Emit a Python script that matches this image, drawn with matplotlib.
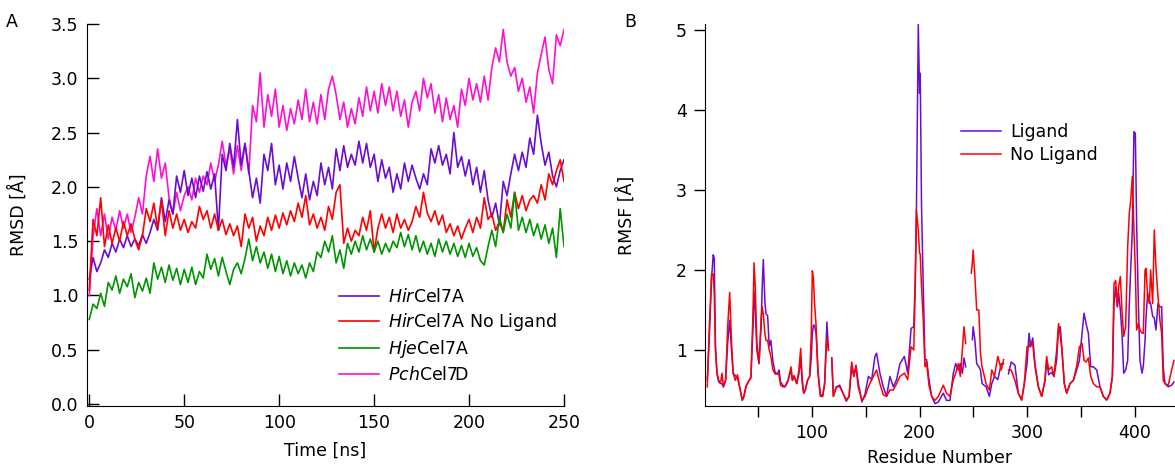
import numpy as np
import matplotlib
matplotlib.use("Agg")
from matplotlib import pyplot as plt

plt.rcParams['font.family'] = ['DejaVu Sans']
plt.rcParams['mathtext.fontset'] = 'custom'
plt.rcParams['mathtext.it'] = 'DejaVu Sans:italic'
plt.rcParams['mathtext.rm'] = 'DejaVu Sans'

# ---- panel A: RMSD vs time, read every 2 ns ----
time_ns = np.arange(0, 251, 2)

rmsd_hir = [
    1.15, 1.35, 1.22, 1.30, 1.42, 1.35, 1.48, 1.40, 1.52, 1.44,
    1.55, 1.45, 1.52, 1.46, 1.56, 1.48, 1.58, 1.70, 1.60, 1.90,
    1.68, 1.88, 1.75, 2.10, 1.95, 2.15, 1.92, 2.08, 1.90, 2.10,
    1.96, 2.14, 1.98, 2.12, 1.60, 2.30, 2.15, 2.40, 2.18, 2.62,
    2.20, 2.40, 2.15, 1.90, 2.08, 1.85, 2.30, 2.15, 2.40, 2.02,
    2.20, 1.98, 2.22, 2.05, 2.28, 2.08, 1.90, 2.12, 1.88, 2.05,
    1.92, 2.22, 2.02, 2.18, 1.98, 2.35, 2.15, 2.38, 2.18, 2.30,
    2.20, 2.42, 2.22, 2.40, 2.18, 2.30, 2.05, 2.25, 2.08, 2.18,
    1.95, 2.12, 1.98, 2.22, 2.05, 2.20, 2.08, 1.98, 2.12, 2.02,
    2.35, 2.22, 2.38, 2.20, 2.30, 2.12, 2.50, 2.18, 2.28, 2.10,
    2.25, 2.02, 2.18, 1.95, 2.15, 1.88, 1.72, 1.85, 1.65, 2.05,
    1.92, 2.12, 2.30, 2.15, 2.32, 2.18, 2.45, 2.30, 2.66, 2.40,
    2.20, 2.32, 2.10, 2.00, 2.15, 2.25]

rmsd_hir_nolig = [
    1.05, 1.70, 1.55, 1.90, 1.45, 1.65, 1.48, 1.62, 1.50, 1.68,
    1.55, 1.66, 1.52, 1.42, 1.55, 1.80, 1.68, 1.85, 1.62, 1.88,
    1.55, 1.78, 1.62, 1.75, 1.60, 1.70, 1.58, 1.68, 1.62, 1.82,
    1.70, 1.78, 1.62, 1.75, 1.60, 1.70, 1.56, 1.66, 1.55, 1.64,
    1.45, 1.75, 1.62, 1.72, 1.50, 1.64, 1.55, 1.72, 1.60, 1.74,
    1.62, 1.76, 1.65, 1.78, 1.68, 1.85, 1.72, 1.92, 1.65, 1.75,
    1.62, 1.72, 1.60, 1.82, 1.70, 1.95, 2.02, 1.48, 1.62, 1.50,
    1.60, 1.55, 1.72, 1.60, 1.78, 1.40, 1.62, 1.75, 1.62, 1.72,
    1.58, 1.75, 1.62, 1.70, 1.60, 1.68, 1.82, 1.72, 1.95, 1.76,
    1.68, 1.78, 1.65, 1.74, 1.58, 1.66, 1.55, 1.64, 1.52, 1.62,
    1.70, 1.58, 1.72, 1.62, 1.90, 1.70, 1.75, 1.60, 1.68, 1.58,
    1.88, 1.72, 1.95, 1.80, 1.92, 1.78, 1.88, 1.92, 1.85, 2.02,
    1.88, 2.12, 2.02, 2.15, 2.25, 2.05]

rmsd_hje = [
    0.78, 0.92, 0.88, 1.02, 0.90, 1.12, 1.05, 1.18, 1.02, 1.15,
    1.08, 1.20, 0.98, 1.12, 1.04, 1.16, 1.02, 1.30, 1.15, 1.26,
    1.12, 1.28, 1.14, 1.25, 1.10, 1.24, 1.12, 1.26, 1.10, 1.22,
    1.16, 1.38, 1.24, 1.34, 1.18, 1.35, 1.22, 1.10, 1.24, 1.30,
    1.20, 1.34, 1.52, 1.32, 1.45, 1.30, 1.40, 1.25, 1.38, 1.22,
    1.36, 1.20, 1.32, 1.18, 1.30, 1.20, 1.28, 1.16, 1.30, 1.22,
    1.40, 1.35, 1.50, 1.40, 1.55, 1.30, 1.42, 1.25, 1.48, 1.38,
    1.50, 1.40, 1.55, 1.42, 1.52, 1.40, 1.50, 1.38, 1.48, 1.40,
    1.50, 1.44, 1.58, 1.45, 1.56, 1.42, 1.55, 1.40, 1.50, 1.38,
    1.48, 1.36, 1.52, 1.40, 1.50, 1.38, 1.48, 1.36, 1.46, 1.35,
    1.48, 1.36, 1.44, 1.32, 1.28, 1.45, 1.60, 1.45, 1.72, 1.58,
    1.75, 1.62, 1.95, 1.60, 1.72, 1.58, 1.70, 1.55, 1.66, 1.52,
    1.65, 1.48, 1.62, 1.35, 1.80, 1.45]

rmsd_pch = [
    1.00, 1.55, 1.80, 1.55, 1.75, 1.52, 1.72, 1.60, 1.78, 1.62,
    1.75, 1.58, 1.72, 1.90, 1.75, 2.10, 2.28, 2.05, 2.35, 2.08,
    2.22, 1.90, 1.75, 1.95, 1.78, 1.92, 2.00, 1.88, 2.08, 1.95,
    2.10, 2.02, 2.22, 2.05, 2.20, 2.42, 2.20, 2.35, 2.12, 2.38,
    2.15, 2.40, 2.12, 2.75, 2.60, 3.05, 2.55, 2.85, 2.65, 2.90,
    2.55, 2.75, 2.52, 2.72, 2.58, 2.80, 2.62, 2.90, 2.60, 2.78,
    2.58, 2.85, 2.62, 2.90, 3.02, 2.85, 2.62, 2.78, 2.55, 2.72,
    2.58, 2.82, 2.65, 2.92, 2.70, 2.88, 2.68, 2.95, 2.75, 2.92,
    2.70, 2.88, 2.65, 2.80, 2.55, 2.78, 2.88, 2.70, 3.00, 2.82,
    2.95, 2.68, 2.85, 2.60, 2.82, 2.62, 2.75, 2.55, 2.90, 2.75,
    3.00, 2.80, 2.95, 2.78, 3.02, 2.80, 3.10, 3.28, 3.15, 3.45,
    3.15, 3.02, 3.10, 2.88, 3.00, 2.78, 2.92, 2.68, 3.05, 3.22,
    3.38, 3.08, 2.95, 3.40, 3.30, 3.45]

# ---- panel B: RMSF per residue (nan = gap in the trace) ----
nan = np.nan
residue = [
    3, 5, 7, 8.5, 9.5, 10.6, 12, 13.6, 15.5, 16.7, 18, 20, 22, 23.8, 25.5, 27, 29, 31, 33, 35.5,
    37, 39, 41, 43.5, 45.5, 46.4, 47.5, 49, 51, 53, 54, 55, 56.5, 57.5, 59, 60.5, 62, 64, 66, 68,
    69.6, 71, 73, 75, 77, 78, 80.7, 82, 83.5, 86, 88, 89.7, 91, 92.5, 94, 96, 98, 99.5, 100.5, 101.5,
    102.5, 104, 105.7, 107.9, 110, 111.9, 113, 114, 115.5, 117, 118.5, 120, 122.8, 125.9, 129, 132, 134.6, 137, 139, 141,
    143, 146.5, 149.4, 152.5, 155.6, 158.6, 160.1, 163.2, 166.3, 169.4, 172.5, 175.6, 178.7, 181.8, 185.9, 189, 192.1, 194.6, 196, 197,
    198.8, 200, 200.6, 201.8, 203.4, 205, 206.5, 208.7, 211.2, 214.3, 217.4, 222, 225, 228.2, 231.3, 233.5, 236, 237.8, 239.7, 241.2,
    242.8, 245, 248, 249, 249.7, 251.3, 253, 255, 256.5, 258, 261.7, 264.8, 267, 269.5, 272.6, 275.8, 278, 280, 282.5, 285,
    288.5, 291.6, 294.7, 297.2, 299.7, 301.6, 303.1, 305, 307.1, 310.2, 313.3, 316.4, 317.9, 319.8, 322.5, 324.7, 327.2, 329, 330.6, 332.1,
    334.3, 336.5, 339.6, 342.7, 345.8, 348.3, 350.8, 352.6, 354.5, 356.6, 358.8, 361.3, 364.4, 367.4, 370.5, 373.6, 376.7, 378.9, 380.4, 382,
    383.5, 384.7, 386.3, 387.8, 389.4, 391.2, 393.1, 394.6, 395.9, 397.4, 398.9, 400.2, 401.4, 403, 404.5, 406.4, 407.6, 409.2, 410.1, 411.6,
    413.2, 414.4, 416.3, 417.8, 419.3, 421.2, 423.0, 424.6, 426.1, 427.7, 430.8, 433.9, 436]

rmsf_ligand = [
    0.62, 1.2, 1.90, 2.19, 2.15, 1.05, 0.70, 0.60, 0.58, 0.58, 0.54, 0.62, 1.1, 1.37, 1.0, 0.71, 0.68, 0.65, 0.54, 0.37,
    0.42, 0.55, 0.60, 0.66, 1.3, 1.73, 1.5, 1.0, 0.83, 1.3, 1.8, 2.13, 1.6, 1.45, 1.43, 1.05, 1.12, 0.85, 0.72, 0.70,
    0.75, 0.60, 0.56, 0.54, 0.58, 0.62, 0.75, 0.62, 0.67, 0.58, 0.70, 0.90, 0.60, 0.46, 0.50, 0.62, 0.67, 0.90, 1.2, 1.31,
    1.31, 1.2, 0.75, 0.45, 0.42, 0.58, 1.0, 1.35, 1.0, nan, 0.9, 0.42, 0.54, 0.56, 0.46, 0.36, 0.42, 0.80, 0.67, 0.81,
    0.60, 0.35, 0.45, 0.67, 0.63, 0.92, 0.96, 0.71, 0.54, 0.42, 0.67, 0.54, 0.63, 0.83, 0.92, 0.71, 1.27, 1.29, 1.9, 2.63,
    5.07, 4.21, 4.46, 2.8, 1.8, 0.88, 0.88, 0.63, 0.42, 0.33, 0.35, 0.46, 0.37, 0.37, 0.71, 0.83, 0.75, 0.83, 0.71, 0.90,
    0.79, nan, nan, 1.13, 1.29, 1.13, 0.83, 0.79, 0.75, 0.58, 0.54, 0.42, 0.58, 0.67, 0.63, 0.83, 0.83, nan, 0.70, 0.85,
    0.81, 0.46, 0.375, 0.58, 0.83, 1.21, 1.04, 1.15, 0.83, 0.54, 0.42, 0.62, 0.875, 0.69, 0.72, 0.67, 0.875, 1.29, 1.29, 1.0,
    0.58, 0.46, 0.58, 0.62, 0.75, 0.87, 1.21, 1.46, 1.33, 1.21, 0.79, 0.79, 0.75, 0.54, 0.42, 0.375, 0.46, 0.67, 1.58, 1.79,
    1.54, 1.71, 1.5, 1.21, 0.71, 0.75, 0.87, 1.58, 2.0, 2.5, 3.73, 3.71, 2.58, 1.58, 0.87, 0.71, 0.80, 1.12, 1.4, 1.71,
    1.62, 1.58, 1.42, 1.4, 1.25, 1.58, 1.54, 1.54, 0.79, 0.58, 0.54, 0.56, 0.60]

rmsf_noligand = [
    0.54, 1.3, 1.95, 1.95, 1.7, 1.0, 0.72, 0.62, 0.60, 0.71, 0.54, 0.62, 1.3, 1.72, 1.1, 0.71, 0.62, 0.69, 0.54, 0.375,
    0.42, 0.55, 0.60, 0.65, 1.5, 2.09, 1.8, 1.1, 0.83, 1.4, 1.54, 1.45, 1.2, 1.12, 1.12, 1.0, 0.92, 0.75, 0.70, 0.70,
    0.69, 0.56, 0.54, 0.54, 0.60, 0.62, 0.79, 0.62, 0.68, 0.58, 0.75, 1.02, 0.65, 0.46, 0.50, 0.62, 0.67, 1.2, 1.99, 1.9,
    1.6, 1.3, 0.71, 0.42, 0.42, 0.58, 0.9, 1.14, 1.0, nan, 0.9, 0.42, 0.54, 0.54, 0.46, 0.375, 0.42, 0.85, 0.67, 0.79,
    0.54, 0.37, 0.42, 0.54, 0.63, 0.71, 0.75, 0.58, 0.44, 0.42, 0.50, 0.50, 0.58, 0.67, 0.71, 0.63, 1.04, 1.0, 1.8, 2.75,
    2.5, 2.21, 2.2, 1.8, 1.375, 0.79, 0.85, 0.56, 0.42, 0.37, 0.42, 0.56, 0.46, 0.42, 0.63, 0.71, 0.83, 0.67, 1.0, 1.29,
    1.08, nan, 1.96, 2.1, 2.25, 1.92, 1.5, 1.5, 0.96, 0.79, 0.58, 0.50, 0.75, 0.67, 0.92, 0.75, 0.88, nan, 0.75, 0.75,
    0.62, 0.46, 0.375, 0.58, 1.04, 1.04, 1.1, 1.08, 0.79, 0.54, 0.42, 0.62, 0.92, 0.75, 0.79, 0.67, 1.0, 1.33, 1.17, 1.0,
    0.58, 0.46, 0.58, 0.62, 0.80, 1.04, 1.08, 0.87, 0.85, 0.90, 0.67, 0.58, 0.54, 0.54, 0.42, 0.375, 0.46, 0.67, 1.83, 1.87,
    1.54, 1.79, 1.92, 1.5, 1.17, 1.29, 2.29, 2.71, 2.87, 3.17, 2.5, 2.0, 1.25, 1.33, 1.25, 1.21, 1.21, 2.0, 2.02, 1.67,
    1.58, 2.0, 1.58, 2.5, 2.04, 1.67, 1.37, 1.21, 0.62, 0.58, 0.56, 0.75, 0.87]

PURPLE = '#6A0DD0'
RED = '#FF0000'
GREEN = '#009400'
PINK = '#FF10D0'
FS = 12.5


def panel_a(fig):
    ax = fig.add_axes([87/1175, 1-406/467, (564-87)/1175, (406-24)/467])
    ax.plot(time_ns, rmsd_pch, color=PINK, lw=1.2)
    ax.plot(time_ns, rmsd_hir, color=PURPLE, lw=1.2)
    ax.plot(time_ns, rmsd_hir_nolig, color=RED, lw=1.2)
    ax.plot(time_ns, rmsd_hje, color=GREEN, lw=1.2)
    ax.set_xlim(-1.2, 250)
    ax.set_ylim(-0.018, 3.5)
    ax.set_xticks([0, 50, 100, 150, 200, 250])
    ax.set_yticks(np.arange(0, 3.51, 0.5))
    ax.set_yticklabels([f"{v:.1f}" for v in np.arange(0, 3.51, 0.5)])
    for s in ['top', 'right']:
        ax.spines[s].set_visible(False)
    ax.tick_params(direction='in', length=8.5, width=1, labelsize=FS, pad=6)
    ax.set_xlabel("Time [ns]", fontsize=FS, labelpad=7)
    ax.set_ylabel("RMSD [Å]", fontsize=FS, labelpad=17)

    labels = [r"$\mathit{Hir}$Cel7A", r"$\mathit{Hir}$Cel7A No Ligand",
              r"$\mathit{Hje}$Cel7A", r"$\mathit{Pch}$Cel7D"]
    colors = [PURPLE, RED, GREEN, PINK]
    handles = [plt.Line2D([], [], color=c, lw=1.2) for c in colors]
    ax.legend(handles, labels, loc='upper left', bbox_to_anchor=(339/1175, 1-288/467),
              bbox_transform=fig.transFigure, frameon=False, fontsize=FS,
              handlelength=2.3, handletextpad=0.55, labelspacing=0.3,
              borderpad=0, borderaxespad=0)
    fig.text(12/1175, 1-22/467, "A", fontsize=FS, ha='center', va='center')


def panel_b(fig):
    ax = fig.add_axes([705/1175, 1-406/467, (1175-705)/1175, (406-24)/467])
    ax.plot(residue, rmsf_ligand, color=PURPLE, lw=1.1, label="Ligand")
    ax.plot(residue, rmsf_noligand, color=RED, lw=1.1, label="No Ligand")
    ax.set_xlim(0.9, 437)
    ax.set_ylim(0.3, 5.075)
    ax.set_xticks([100, 200, 300, 400])
    ax.set_xticks([50, 150, 250, 350], minor=True)
    ax.set_yticks([1, 2, 3, 4, 5])
    for s in ['top', 'right']:
        ax.spines[s].set_visible(False)
    ax.tick_params(which='both', direction='out', length=8, width=1, labelsize=FS, pad=5)
    ax.set_xlabel("Residue Number", fontsize=FS, labelpad=5)
    ax.set_ylabel("RMSF [Å]", fontsize=FS, labelpad=29)
    ax.legend(loc='upper left', bbox_to_anchor=(961/1175, 1-123/467),
              bbox_transform=fig.transFigure, frameon=False, fontsize=FS,
              handlelength=2.3, handletextpad=0.55, labelspacing=0.3,
              borderpad=0, borderaxespad=0)
    fig.text(630/1175, 1-22/467, "B", fontsize=FS, ha='center', va='center')


if __name__ == "__main__":
    fig = plt.figure(figsize=(11.75, 4.67), dpi=100)
    panel_a(fig)
    panel_b(fig)
    fig.savefig("out.png", dpi=100)
